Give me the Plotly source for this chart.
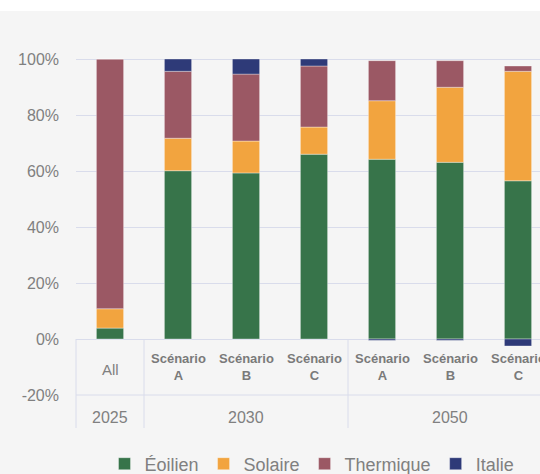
import plotly.graph_objects as go

categories = ["All", "Scénario A", "Scénario B", "Scénario C", "Scénario A", "Scénario B", "Scénario C"]
groups = ["2025", "2030", "2050"]
group_spans = [(0, 0), (1, 3), (4, 6)]

eolien = [3.9, 60.1, 59.3, 66.0, 64.2, 63.1, 56.5]
solaire = [6.9, 11.6, 11.4, 9.7, 20.9, 26.8, 39.1]
thermique = [89.2, 23.9, 23.9, 21.8, 14.3, 9.5, 1.9]
italie = [0.0, 4.4, 5.4, 2.5, -0.5, -0.5, -2.5]

series = [
    ("Éoilien", eolien, "#37744A"),
    ("Solaire", solaire, "#F2A43F"),
    ("Thermique", thermique, "#9B5864"),
    ("Italie", italie, "#2E3A78"),
]

W, H = 540, 474
ml, mr, mt, mb = 76, 0, 56, 79
plot_w = W - ml - mr
plot_h = H - mt - mb
cat_px = 68.0
x0 = -0.5
x1 = x0 + plot_w / cat_px
y0 = -20.0
y1 = y0 + plot_h / 2.8
table_bottom = y0 - 33 / 2.8

grid = "#D9DCEB"
txt = "#808080"
bg = "#F5F5F5"

def xp(v):
    return (v - x0) / (x1 - x0)

def yp(v):
    return (v - y0) / (y1 - y0)

def ypx(p):
    # pixel row (from top) -> paper y
    return (H - mb - p) / plot_h

xs = list(range(len(categories)))
fig = go.Figure()
for name, vals, col in series:
    fig.add_trace(go.Bar(
        x=xs, y=vals, name=name, width=0.4,
        marker=dict(color=col, line=dict(color="rgba(255,255,255,0.35)", width=1)),
    ))

shapes = []
# chart area background (white strip on top)
shapes.append(dict(type="rect", xref="paper", yref="paper", layer="below",
                   x0=-ml / plot_w, x1=1.0, y0=ypx(H), y1=ypx(11),
                   fillcolor=bg, line=dict(width=0)))
# category table lines
for xv in [x0, 0.5, 3.5]:
    shapes.append(dict(type="line", xref="paper", yref="paper",
                       x0=xp(xv), x1=xp(xv), y0=yp(0), y1=yp(table_bottom),
                       line=dict(color=grid, width=1)))
shapes.append(dict(type="line", xref="paper", yref="paper",
                   x0=0, x1=1, y0=yp(-20), y1=yp(-20),
                   line=dict(color=grid, width=1)))

annotations = []
scen_font = dict(family="Liberation Sans Narrow, Arial Narrow, Liberation Sans", size=13, color="#7A7A7A")
for i, c in enumerate(categories):
    if c == "All":
        annotations.append(dict(x=xp(i), y=yp(-11.0), xref="paper", yref="paper", text=c, showarrow=False,
                                xanchor="center", yanchor="middle",
                                font=dict(family="Liberation Sans, Arial", size=15, color=txt)))
    else:
        w1, w2 = c.split(" ")
        annotations.append(dict(x=xp(i), y=yp(-10.0), xref="paper", yref="paper",
                                text="<b>" + w1 + "<br>" + w2 + "</b>",
                                showarrow=False, xanchor="center", yanchor="middle", font=scen_font))
for g, (a, b) in zip(groups, group_spans):
    annotations.append(dict(x=xp((a + b) / 2), y=yp(-27.9), xref="paper", yref="paper", text=g, showarrow=False,
                            xanchor="center", yanchor="middle",
                            font=dict(family="Liberation Sans, Arial", size=16, color=txt)))

fig.update_layout(
    width=W, height=H,
    margin=dict(l=ml, r=mr, t=mt, b=mb, autoexpand=False),
    paper_bgcolor="#FFFFFF", plot_bgcolor=bg,
    barmode="relative",
    font=dict(family="Liberation Sans, Arial", color=txt),
    xaxis=dict(range=[x0, x1], showticklabels=False, showgrid=False, zeroline=False,
               showline=False, ticks=""),
    yaxis=dict(range=[y0, y1], tickvals=[-20, 0, 20, 40, 60, 80, 100],
               ticktext=["-20%", "0%", "20%", "40%", "60%", "80%", "100%"],
               showgrid=True, gridcolor=grid, gridwidth=1,
               zeroline=True, zerolinecolor=grid, zerolinewidth=1,
               tickfont=dict(size=16, color=txt), ticks="", ticklabelstandoff=16),
    legend=dict(orientation="h", x=xp(0) + (312 - 110) / plot_w, xanchor="center",
                y=ypx(464), yanchor="middle",
                font=dict(size=18, color=txt), bgcolor="rgba(0,0,0,0)",
                traceorder="normal", itemwidth=30),
    shapes=shapes,
    annotations=annotations,
    showlegend=True,
)

fig.write_html("out.html", config={"displayModeBar": False},
               post_script="document.body.style.margin='0px';")
